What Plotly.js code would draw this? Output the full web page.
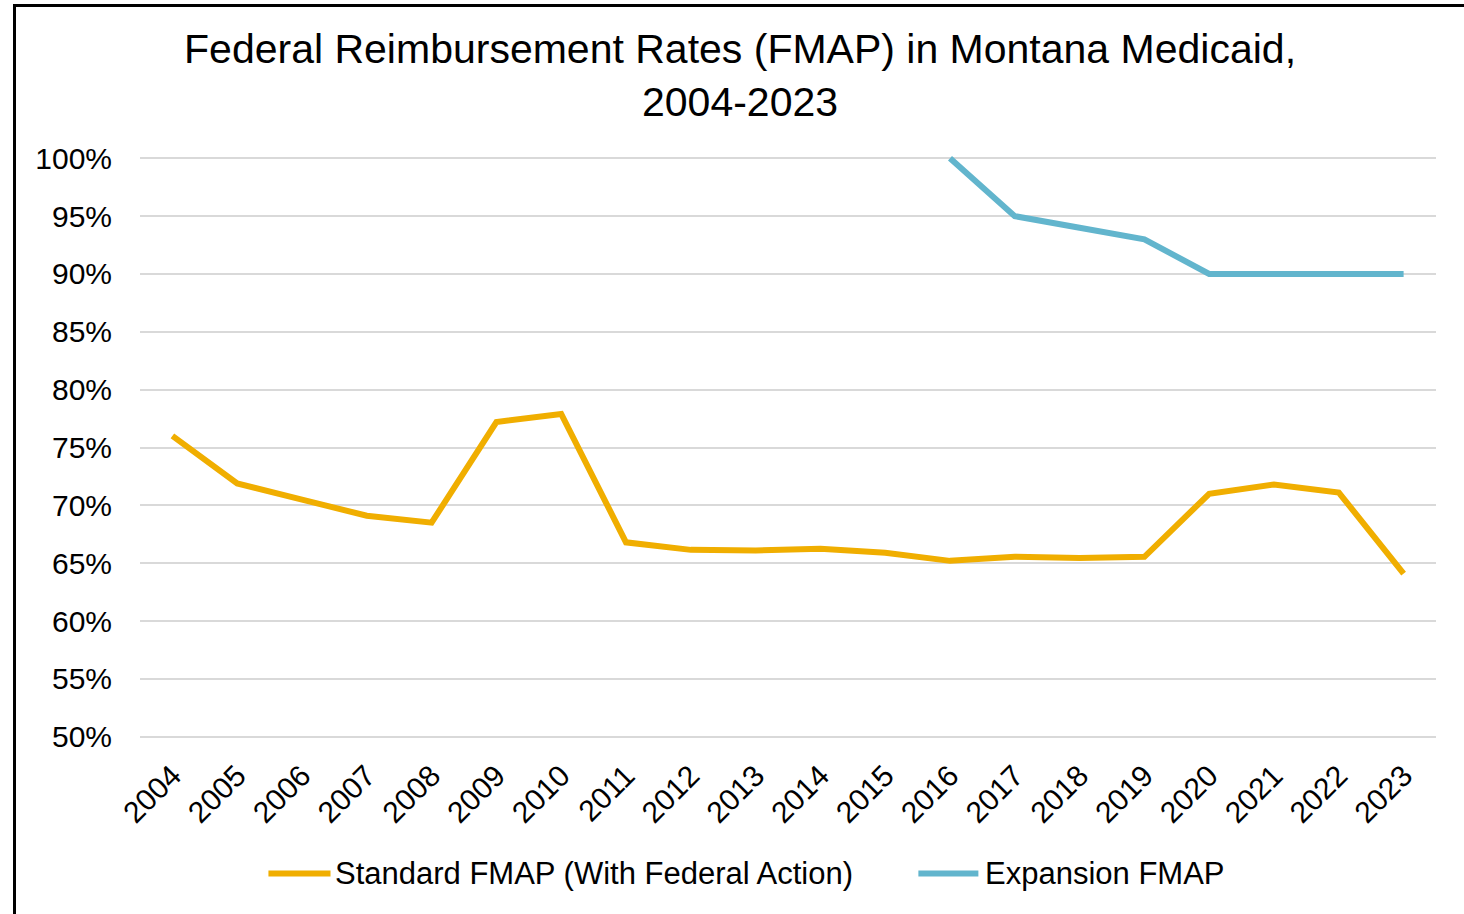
<!DOCTYPE html>
<html>
<head>
<meta charset="utf-8">
<script src="https://cdn.plot.ly/plotly-3.0.1.min.js"></script>
<style>
  html, body { margin: 0; padding: 0; background: #fff; overflow: hidden; }
  #chart { position: absolute; left: 0; top: 0; width: 1464px; height: 914px; }
  #frame { position: absolute; left: 13px; top: 4px; width: 2000px; height: 2000px;
           border-left: 3px solid #000; border-top: 3px solid #000; pointer-events: none; }
</style>
</head>
<body>
<div id="chart"></div>
<div id="frame"></div>
<script>
const years = ["2004","2005","2006","2007","2008","2009","2010","2011","2012","2013",
               "2014","2015","2016","2017","2018","2019","2020","2021","2022","2023"];
const standardFMAP = [76.0, 71.9, 70.5, 69.1, 68.5, 77.2, 77.9, 66.8, 66.15, 66.1,
                      66.25, 65.9, 65.2, 65.55, 65.45, 65.55, 71.0, 71.8, 71.1, 64.1];
const expansionFMAP = [null, null, null, null, null, null, null, null, null, null,
                       null, null, 100, 95, 94, 93, 90, 90, 90, 90];
const yTickVals = [50, 55, 60, 65, 70, 75, 80, 85, 90, 95, 100];
const yTickText = yTickVals.map(v => v + "%");
const seriesNames = ["Standard FMAP (With Federal Action)", "Expansion FMAP"];
const seriesColors = ["#F0AE00", "#62B5CD"];

const font = "Liberation Sans, Arial, sans-serif";

const traces = [
  { x: years, y: standardFMAP, type: "scatter", mode: "lines", name: seriesNames[0],
    line: { color: seriesColors[0], width: 6 }, hoverinfo: "x+y" },
  { x: years, y: expansionFMAP, type: "scatter", mode: "lines", name: seriesNames[1],
    line: { color: seriesColors[1], width: 6 }, connectgaps: false, hoverinfo: "x+y" }
];

// plot area: 50% at y=737px, 100% at y=158px (11.58 px per unit); range padded by 0.2
const legY = -0.2309;
const layout = {
  width: 1464, height: 914,
  margin: { l: 139.6, r: 28.4, t: 155.7, b: 174.7 },
  paper_bgcolor: "#fff", plot_bgcolor: "#fff",
  showlegend: false,
  title: {
    text: "Federal Reimbursement Rates (FMAP) in Montana Medicaid,<br>2004-2023",
    font: { family: font, size: 41, color: "#000" },
    xref: "container", x: 0.5055, xanchor: "center",
    yref: "container", y: 0.9315, yanchor: "top"
  },
  xaxis: {
    type: "category", range: [-0.5, 19.5],
    showgrid: false, zeroline: false, showline: false, ticks: "",
    tickangle: -45, ticklabelstandoff: 12,
    tickfont: { family: font, size: 30, color: "#000" },
    fixedrange: true
  },
  yaxis: {
    range: [49.8, 100.2], tickvals: yTickVals, ticktext: yTickText,
    showgrid: true, gridcolor: "#D9D9D9", gridwidth: 2,
    zeroline: false, showline: false, ticks: "", ticklabelstandoff: 27,
    tickfont: { family: font, size: 30, color: "#000" },
    fixedrange: true
  },
  shapes: [
    { type: "line", xref: "paper", yref: "paper", x0: 0.0991, x1: 0.147, y0: legY, y1: legY,
      line: { color: seriesColors[0], width: 6 } },
    { type: "line", xref: "paper", yref: "paper", x0: 0.6006, x1: 0.6469, y0: legY, y1: legY,
      line: { color: seriesColors[1], width: 6 } }
  ],
  annotations: [
    { xref: "paper", yref: "paper", x: 0.149, y: legY, xanchor: "left", yanchor: "middle",
      text: seriesNames[0], showarrow: false, font: { family: font, size: 31, color: "#000" } },
    { xref: "paper", yref: "paper", x: 0.6508, y: legY, xanchor: "left", yanchor: "middle",
      text: seriesNames[1], showarrow: false, font: { family: font, size: 31, color: "#000" } }
  ]
};

Plotly.newPlot("chart", traces, layout, { displayModeBar: false, staticPlot: false });
</script>
</body>
</html>
